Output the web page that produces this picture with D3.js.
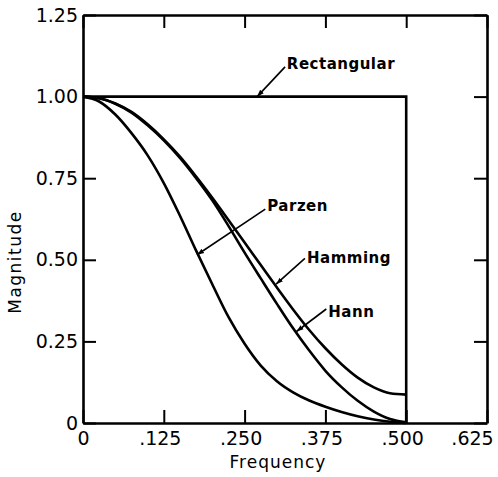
<!DOCTYPE html>
<html>
<head>
<meta charset="utf-8">
<script src="https://cdn.jsdelivr.net/npm/d3@7"></script>
<style>
  html, body { margin: 0; padding: 0; background: #fff; }
  svg { display: block; }
  text { font-family: "DejaVu Sans", sans-serif; fill: #000; }
</style>
</head>
<body>
<script>
// ---- data ----
const freq = [0, 0.025, 0.05, 0.075, 0.1, 0.125, 0.15, 0.175, 0.2, 0.225, 0.25,
              0.275, 0.3, 0.325, 0.35, 0.375, 0.4, 0.425, 0.45, 0.475, 0.5];
const hann = [1, 0.995, 0.978, 0.951, 0.912, 0.866, 0.812, 0.75, 0.682, 0.604, 0.522,
              0.443, 0.365, 0.29, 0.222, 0.16, 0.11, 0.068, 0.035, 0.012, 0.002];
const hamming = [1, 0.995, 0.979, 0.953, 0.915, 0.869, 0.816, 0.755, 0.69, 0.622, 0.553,
                 0.484, 0.415, 0.348, 0.285, 0.229, 0.18, 0.139, 0.109, 0.091, 0.087];
const parzen = [1, 0.985, 0.945, 0.888, 0.82, 0.735, 0.635, 0.528, 0.425, 0.325, 0.243,
                0.176, 0.128, 0.094, 0.069, 0.05, 0.034, 0.021, 0.011, 0.004, 0];
const rectFreq = [0, 0.5, 0.5];
const rectMag = [1, 1, 0];
const xTicks = [0, 0.125, 0.25, 0.375, 0.5, 0.625];
const xTickLabels = ["0", ".125", ".250", ".375", ".500", ".625"];
const yTicks = [0, 0.25, 0.5, 0.75, 1, 1.25];
const yTickLabels = ["0", "0.25", "0.50", "0.75", "1.00", "1.25"];
const xTitle = "Frequency";
const yTitle = "Magnitude";
const annLabels = ["Rectangular", "Parzen", "Hamming", "Hann"];

// ---- layout ----
const W = 498, H = 477;
const margin = { left: 83, right: 11, top: 15, bottom: 54 };
const x = d3.scaleLinear().domain([0, 0.625]).range([margin.left, W - margin.right]);
const y = d3.scaleLinear().domain([0, 1.25]).range([H - margin.bottom, margin.top]);

const svg = d3.select("body").append("svg").attr("width", W).attr("height", H);

const defs = svg.append("defs");
defs.append("marker").attr("id", "arr").attr("viewBox", "0 0 10 10")
  .attr("refX", 10).attr("refY", 5).attr("markerWidth", 7).attr("markerHeight", 7)
  .attr("markerUnits", "userSpaceOnUse").attr("orient", "auto")
  .append("path").attr("d", "M0,1.5 L10,5 L0,8.5 Z").attr("fill", "#000");

const SW = 2.6;
const tickLen = 13;

function styleAxis(g) {
  g.selectAll(".domain").attr("stroke", "#000").attr("stroke-width", SW);
  g.selectAll(".tick line").attr("stroke", "#000").attr("stroke-width", 2);
}

// left axis
svg.append("g").attr("transform", `translate(${x(0)},0)`)
  .call(d3.axisLeft(y).tickValues(yTicks).tickSize(-tickLen).tickSizeOuter(0).tickPadding(5)
    .tickFormat((d, i) => yTickLabels[i]))
  .call(styleAxis)
  .call(g => g.selectAll(".tick text").attr("font-size", 19).attr("font-family", "DejaVu Sans").attr("fill", "#000"));

// bottom axis
svg.append("g").attr("transform", `translate(0,${y(0)})`)
  .call(d3.axisBottom(x).tickValues(xTicks).tickSize(-tickLen).tickSizeOuter(0).tickPadding(9)
    .tickFormat((d, i) => xTickLabels[i]))
  .call(styleAxis)
  .call(g => g.selectAll(".tick text").attr("font-size", 19).attr("font-family", "DejaVu Sans")
    .attr("fill", "#000").attr("dx", (d, i) => i === 0 ? 0 : (i === xTicks.length - 1 ? -15 : -4)));

// top axis (no labels)
svg.append("g").attr("transform", `translate(0,${y(1.25)})`)
  .call(d3.axisTop(x).tickValues(xTicks).tickSize(-tickLen).tickSizeOuter(0).tickFormat(""))
  .call(styleAxis);

// right axis (no labels)
svg.append("g").attr("transform", `translate(${x(0.625)},0)`)
  .call(d3.axisRight(y).tickValues(yTicks).tickSize(-tickLen).tickSizeOuter(0).tickFormat(""))
  .call(styleAxis);

// curves
const line = d3.line().x(d => x(d[0])).y(d => y(d[1])).curve(d3.curveMonotoneX);
const series = [hann, hamming, parzen];
series.forEach(s => {
  svg.append("path").datum(freq.map((f, i) => [f, s[i]]))
    .attr("d", line).attr("fill", "none").attr("stroke", "#000")
    .attr("stroke-width", SW).attr("stroke-linejoin", "round");
});
// rectangular
svg.append("path").datum(rectFreq.map((f, i) => [f, rectMag[i]]))
  .attr("d", d3.line().x(d => x(d[0])).y(d => y(d[1])))
  .attr("fill", "none").attr("stroke", "#000").attr("stroke-width", SW);

// annotations
const ann = [
  { t: annLabels[0], tx: x(0.3154), ty: y(1.086), from: [x(0.3126), y(1.091)], to: [x(0.2694), y(1.0)] },
  { t: annLabels[1], tx: x(0.2851), ty: y(0.6495), from: [x(0.2820), y(0.6555)], to: [x(0.1765), y(0.5155)] },
  { t: annLabels[2], tx: x(0.3466), ty: y(0.4903), from: [x(0.3433), y(0.5045)], to: [x(0.2987), y(0.4253)] },
  { t: annLabels[3], tx: x(0.3795), ty: y(0.3233), from: [x(0.3764), y(0.3493)], to: [x(0.3303), y(0.2803)] }
];
ann.forEach(a => {
  svg.append("line").attr("x1", a.from[0]).attr("y1", a.from[1])
    .attr("x2", a.to[0]).attr("y2", a.to[1])
    .attr("stroke", "#000").attr("stroke-width", 1.6).attr("marker-end", "url(#arr)");
  svg.append("text").attr("x", a.tx).attr("y", a.ty)
    .attr("font-size", 15).attr("font-weight", "bold").attr("letter-spacing", 0.5).text(a.t);
});

// axis titles
svg.append("text").attr("x", 278).attr("y", 468).attr("text-anchor", "middle")
  .attr("font-size", 17).attr("letter-spacing", 1).text(xTitle);
svg.append("text").attr("transform", `translate(21,262) rotate(-90)`)
  .attr("text-anchor", "middle").attr("font-size", 17).attr("letter-spacing", 1.5).text(yTitle);
</script>
</body>
</html>
